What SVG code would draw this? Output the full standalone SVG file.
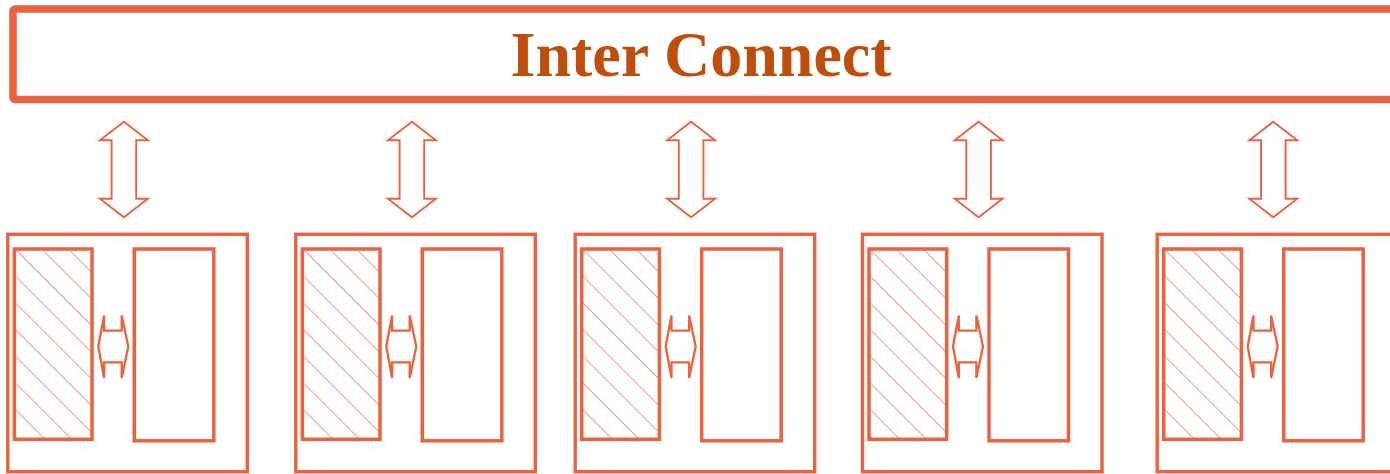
<svg xmlns="http://www.w3.org/2000/svg" width="1390" height="474" viewBox="0 0 1390 474">
<style>
.box{fill:#fff;stroke:#EB6241;stroke-width:3.4}
.blk{fill:#fff;stroke:#EB6241;stroke-width:3.5}
.hat{fill:url(#hatch);stroke:#EB6241;stroke-width:3.5}
.bus{fill:#fff;stroke:#EB6241;stroke-width:7.5}
.varrow{fill:#fff;stroke:#EB6241;stroke-width:1.9}
.harrow{fill:#fff;stroke:#EB6241;stroke-width:2.3}
.title{font-family:"Liberation Serif","Times New Roman",serif;font-weight:bold;font-size:64px;fill:#BF4E0C}
</style>
<defs>
<pattern id="hatch" patternUnits="userSpaceOnUse" width="18.88" height="20" patternTransform="translate(0,249) rotate(-45)">
<rect width="18.88" height="20" fill="#fff"/>
<line x1="0" y1="-1" x2="0" y2="21" stroke="#EB6241" stroke-width="1.3"/>
</pattern>
<polygon id="va" points="0,121.7 24,140.3 12.3,140.3 12.3,198.7 24,198.7 0,217.3 -24,198.7 -12.3,198.7 -12.3,140.3 -24,140.3"/>
<polygon id="ha" points="84,346.5 89.8,315.5 89.8,330.7 107.4,330.7 107.4,315.5 114,346.5 107.4,378 107.4,362.3 89.8,362.3 89.8,378"/>
</defs>
<g id="interconnect">
<rect class="bus" x="13" y="9" width="1390" height="90.5" rx="2"/>
<text class="title" x="701" y="75.7" text-anchor="middle">Inter Connect</text>
</g>
<g id="module1" transform="translate(14.3,0)">
<rect class="box" x="-6.5" y="234.3" width="239.5" height="237.4"/>
<rect class="hat" x="0" y="249" width="77.7" height="190.3"/>
<rect class="blk" x="120" y="249" width="79.5" height="191.8"/>
</g>
<g id="module2" transform="translate(302.3,0)">
<rect class="box" x="-6.5" y="234.3" width="239.5" height="237.4"/>
<rect class="hat" x="0" y="249" width="77.7" height="190.3"/>
<rect class="blk" x="120" y="249" width="79.5" height="191.8"/>
</g>
<g id="module3" transform="translate(581.7,0)">
<rect class="box" x="-6.5" y="234.3" width="239.5" height="237.4"/>
<rect class="hat" x="0" y="249" width="77.7" height="190.3"/>
<rect class="blk" x="120" y="249" width="79.5" height="191.8"/>
</g>
<g id="module4" transform="translate(869,0)">
<rect class="box" x="-6.5" y="234.3" width="239.5" height="237.4"/>
<rect class="hat" x="0" y="249" width="77.7" height="190.3"/>
<rect class="blk" x="120" y="249" width="79.5" height="191.8"/>
</g>
<g id="module5" transform="translate(1163.7,0)">
<rect class="box" x="-6.5" y="234.3" width="239.5" height="237.4"/>
<rect class="hat" x="0" y="249" width="77.7" height="190.3"/>
<rect class="blk" x="120" y="249" width="79.5" height="191.8"/>
</g>
<g id="connectors">
<use href="#va" class="varrow" x="123.9"/>
<use href="#va" class="varrow" x="411.9"/>
<use href="#va" class="varrow" x="691.1"/>
<use href="#va" class="varrow" x="978.6"/>
<use href="#va" class="varrow" x="1273.3"/>
<use href="#ha" class="harrow" x="14.3"/>
<use href="#ha" class="harrow" x="302.3"/>
<use href="#ha" class="harrow" x="581.7"/>
<use href="#ha" class="harrow" x="869"/>
<use href="#ha" class="harrow" x="1163.7"/>
</g>
</svg>
